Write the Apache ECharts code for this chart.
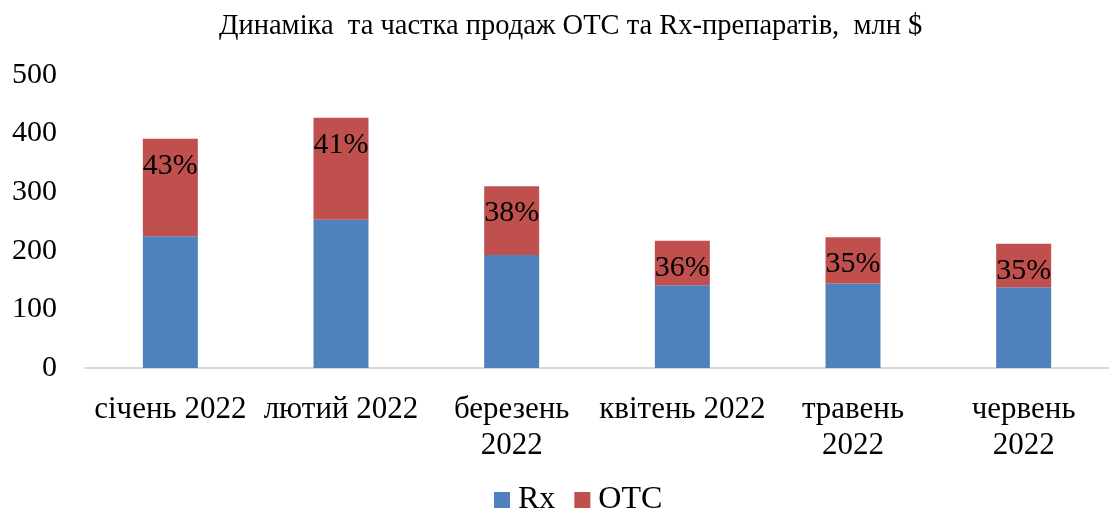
<!DOCTYPE html>
<html>
<head>
<meta charset="utf-8">
<script src="https://cdn.jsdelivr.net/npm/echarts@6/dist/echarts.min.js"></script>
<style>
  html, body { margin: 0; padding: 0; background: #fff; }
  #chart { width: 1109px; height: 515px; }
</style>
</head>
<body>
<div id="chart"></div>
<script>
// months (wrapped like in the original)
const months = ['січень 2022', 'лютий 2022', 'березень\n2022', 'квітень 2022', 'травень\n2022', 'червень\n2022'];
// sales, mln $
const rxSales = [225, 253, 193, 141, 144, 138];
const otcSales = [166, 174, 117, 76, 79, 74];
// OTC share labels
const otcShare = ['43%', '41%', '38%', '36%', '35%', '35%'];

const serif = '"Liberation Serif", "Times New Roman", serif';

let myChart = echarts.init(document.getElementById('chart'));
myChart.setOption({
  backgroundColor: '#fff',
  animation: false,
  textStyle: { fontFamily: serif, color: '#000' },
  title: {
    text: 'Динаміка  та частка продаж ОТС та Rx-препаратів,  млн $',
    left: 214,
    top: 7,
    textStyle: { fontFamily: serif, fontSize: 28.5, fontWeight: 'normal', color: '#000' }
  },
  legend: {
    top: 479,
    left: 489,
    itemWidth: 16,
    itemHeight: 16,
    itemGap: 19,
    icon: 'rect',
    textStyle: { fontFamily: serif, fontSize: 32, color: '#000', padding: [0, 0, 0, 3] },
    data: ['Rx', 'ОТС']
  },
  grid: {
    left: 85,
    top: 75,
    width: 1032,
    height: 293
  },
  xAxis: {
    type: 'category',
    data: months,
    axisLine: { lineStyle: { color: '#D9D9D9', width: 2 } },
    axisTick: { show: false },
    axisLabel: {
      fontFamily: serif,
      fontSize: 31,
      color: '#000',
      margin: 24,
      lineHeight: 36,
      interval: 0
    }
  },
  yAxis: {
    type: 'value',
    min: 0,
    max: 500,
    interval: 100,
    axisLine: { show: false },
    axisTick: { show: false },
    splitLine: { show: false },
    axisLabel: { fontFamily: serif, fontSize: 30, color: '#000', margin: 28 }
  },
  series: [
    {
      name: 'Rx',
      type: 'bar',
      stack: 'sales',
      barWidth: 55,
      itemStyle: { color: '#4F81BD' },
      data: rxSales
    },
    {
      name: 'ОТС',
      type: 'bar',
      stack: 'sales',
      barWidth: 55,
      itemStyle: { color: '#C0504D' },
      label: {
        show: true,
        position: 'insideTop',
        distance: 12,
        fontFamily: serif,
        fontSize: 30,
        color: '#000',
        formatter: function (p) { return otcShare[p.dataIndex]; }
      },
      data: otcSales
    }
  ]
});
</script>
</body>
</html>
